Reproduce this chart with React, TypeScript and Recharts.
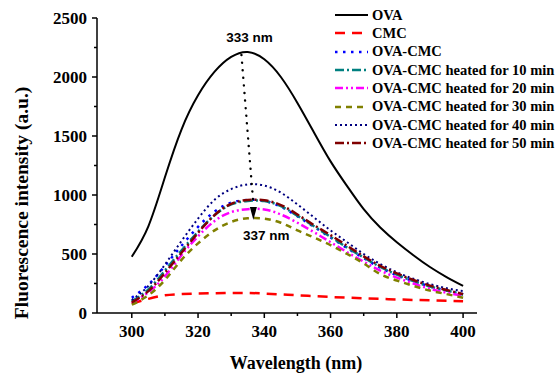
import { LineChart, Line, XAxis, YAxis, ReferenceLine, ReferenceDot, Legend, Label } from "recharts";

const WAVELENGTHS = [300, 305, 310, 315, 320, 325, 330, 335, 340, 345, 350, 355, 360, 365, 370, 375, 380, 385, 390, 395, 400];

const OVA = [477, 735, 1150, 1555, 1845, 2045, 2170, 2212, 2150, 2000, 1780, 1530, 1285, 1075, 880, 725, 600, 490, 390, 305, 230];
const CMC = [80, 120, 150, 160, 165, 168, 170, 170, 165, 158, 150, 143, 136, 130, 125, 120, 115, 111, 107, 103, 100];
const OVA_CMC = [130, 240, 400, 570, 730, 860, 935, 958, 950, 900, 820, 730, 640, 550, 465, 385, 320, 270, 225, 190, 160];
const HEATED_10 = [100, 200, 360, 530, 690, 830, 920, 950, 948, 905, 825, 735, 645, 555, 470, 390, 325, 270, 225, 190, 155];
const HEATED_20 = [85, 175, 310, 490, 650, 780, 855, 880, 878, 835, 765, 685, 600, 515, 435, 360, 300, 250, 205, 172, 145];
const HEATED_30 = [70, 150, 280, 450, 590, 700, 772, 803, 800, 765, 700, 640, 575, 500, 420, 330, 275, 230, 190, 160, 130];
const HEATED_40 = [110, 230, 410, 610, 800, 960, 1050, 1090, 1080, 1020, 920, 810, 700, 600, 500, 415, 345, 290, 245, 210, 185];
const HEATED_50 = [90, 185, 340, 510, 680, 830, 925, 958, 955, 915, 835, 745, 660, 570, 480, 400, 335, 280, 232, 195, 160];

const X_TICKS = [300, 310, 320, 330, 340, 350, 360, 370, 380, 390, 400];
const Y_TICKS = [0, 250, 500, 750, 1000, 1250, 1500, 1750, 2000, 2250, 2500];

const SERIF = "'Liberation Serif', 'Times New Roman', serif";
const SANS = "'Liberation Sans', Arial, sans-serif";

const SERIES = [
  { key: "ova", name: "OVA", values: OVA, color: "#000000", dash: undefined, width: 2 },
  { key: "cmc", name: "CMC", values: CMC, color: "#ff0000", dash: "10 7", width: 2.5 },
  { key: "ovaCmc", name: "OVA-CMC", values: OVA_CMC, color: "#0000ff", dash: "2.5 5.5", width: 2.5 },
  { key: "h10", name: "OVA-CMC heated for 10 min", values: HEATED_10, color: "#008080", dash: "9 3 2 3", width: 2.5 },
  { key: "h20", name: "OVA-CMC heated for 20 min", values: HEATED_20, color: "#ff00ff", dash: "8 3 2 3 2 3", width: 2.5 },
  { key: "h30", name: "OVA-CMC heated for 30 min", values: HEATED_30, color: "#808000", dash: "6 5", width: 2.5 },
  { key: "h40", name: "OVA-CMC heated for 40 min", values: HEATED_40, color: "#000080", dash: "2 3", width: 2 },
  { key: "h50", name: "OVA-CMC heated for 50 min", values: HEATED_50, color: "#800000", dash: "9 3 2 3", width: 2.5 },
];

const data = WAVELENGTHS.map((wl, i) => {
  const row: Record<string, number> = { wl };
  SERIES.forEach((s) => {
    row[s.key] = s.values[i];
  });
  return row;
});

function XTick({ x, y, payload }: any) {
  const major = payload.value % 20 === 0;
  return (
    <g>
      <line x1={x} x2={x} y1={y} y2={y + (major ? 5 : 3)} stroke="#000" strokeWidth={1.5} />
      {major && (
        <text x={x} y={y + 24} textAnchor="middle" fontFamily={SERIF} fontWeight="bold" fontSize={17} fill="#000">
          {payload.value}
        </text>
      )}
    </g>
  );
}

function YTick({ x, y, payload }: any) {
  const major = payload.value % 500 === 0;
  return (
    <g>
      <line x1={x - (major ? 5 : 3)} x2={x} y1={y} y2={y} stroke="#000" strokeWidth={1.5} />
      {major && (
        <text x={x - 10} y={y} dy="0.35em" textAnchor="end" fontFamily={SERIF} fontWeight="bold" fontSize={17} fill="#000">
          {payload.value}
        </text>
      )}
    </g>
  );
}

function ChartLegend() {
  return (
    <div style={{ fontFamily: SERIF, fontWeight: "bold", fontSize: 14.5, color: "#000" }}>
      {SERIES.map((s) => (
        <div key={s.key} style={{ display: "flex", alignItems: "center", height: 18.33, whiteSpace: "nowrap" }}>
          <svg width={39} height={10} style={{ display: "block" }}>
            <line x1={2} x2={35} y1={5} y2={5} stroke={s.color} strokeWidth={s.width} strokeDasharray={s.dash} />
          </svg>
          <span>{s.name}</span>
        </div>
      ))}
    </div>
  );
}

export default function App() {
  return (
    <div style={{ position: "absolute", left: 0, top: 0, width: 556, height: 374, background: "#fff" }}>
      <LineChart width={556} height={374} data={data} margin={{ top: 18, right: 79, bottom: 0, left: 0 }}>
        <XAxis
          type="number"
          dataKey="wl"
          domain={[289.5, 404.2]}
          ticks={X_TICKS}
          interval={0}
          allowDataOverflow
          height={61}
          tickSize={0}
          tickMargin={0}
          tick={(p: any) => <XTick {...p} />}
          axisLine={{ stroke: "#000", strokeWidth: 1.5 }}
        >
          <Label
            content={() => (
              <text x={296} y={369} textAnchor="middle" fontFamily={SERIF} fontWeight="bold" fontSize={18} fill="#000">
                Wavelength (nm)
              </text>
            )}
          />
        </XAxis>
        <YAxis
          type="number"
          domain={[0, 2500]}
          ticks={Y_TICKS}
          interval={0}
          width={97}
          tickSize={0}
          tickMargin={0}
          tick={(p: any) => <YTick {...p} />}
          axisLine={{ stroke: "#000", strokeWidth: 1.5 }}
        >
          <Label
            content={() => (
              <text
                x={28}
                y={203}
                textAnchor="middle"
                transform="rotate(-90, 28, 203)"
                fontFamily={SERIF}
                fontWeight="bold"
                fontSize={19.5}
                fill="#000"
              >
                Fluorescence intensity (a.u.)
              </text>
            )}
          />
        </YAxis>
        <Legend
          layout="vertical"
          align="center"
          verticalAlign="middle"
          wrapperStyle={{ left: 333, top: 6, width: 223 }}
          content={() => <ChartLegend />}
        />
        {SERIES.map((s) => (
          <Line
            key={s.key}
            type="natural"
            dataKey={s.key}
            name={s.name}
            stroke={s.color}
            strokeWidth={s.width}
            strokeDasharray={s.dash}
            dot={false}
            activeDot={false}
            isAnimationActive={false}
          />
        ))}
        <ReferenceLine
          segment={[{ x: 333.1, y: 2186 }, { x: 336.7, y: 920 }]}
          stroke="#000"
          strokeWidth={2.4}
          strokeDasharray="0.1 7.5"
          strokeLinecap="round"
          ifOverflow="visible"
        />
        <ReferenceDot
          x={336.7}
          y={898}
          ifOverflow="visible"
          shape={(p: any) => (
            <polygon points={`${p.cx - 3.5},${p.cy} ${p.cx + 3.5},${p.cy} ${p.cx},${p.cy + 13}`} fill="#000" />
          )}
        />
        <ReferenceDot
          x={335.5}
          y={2297}
          ifOverflow="visible"
          shape={(p: any) => (
            <text x={p.cx} y={p.cy} textAnchor="middle" fontFamily={SANS} fontWeight="bold" fontSize={13.5} fill="#000">
              333 nm
            </text>
          )}
        />
        <ReferenceDot
          x={340.6}
          y={619}
          ifOverflow="visible"
          shape={(p: any) => (
            <text x={p.cx} y={p.cy} textAnchor="middle" fontFamily={SANS} fontWeight="bold" fontSize={13.5} fill="#000">
              337 nm
            </text>
          )}
        />
      </LineChart>
    </div>
  );
}
